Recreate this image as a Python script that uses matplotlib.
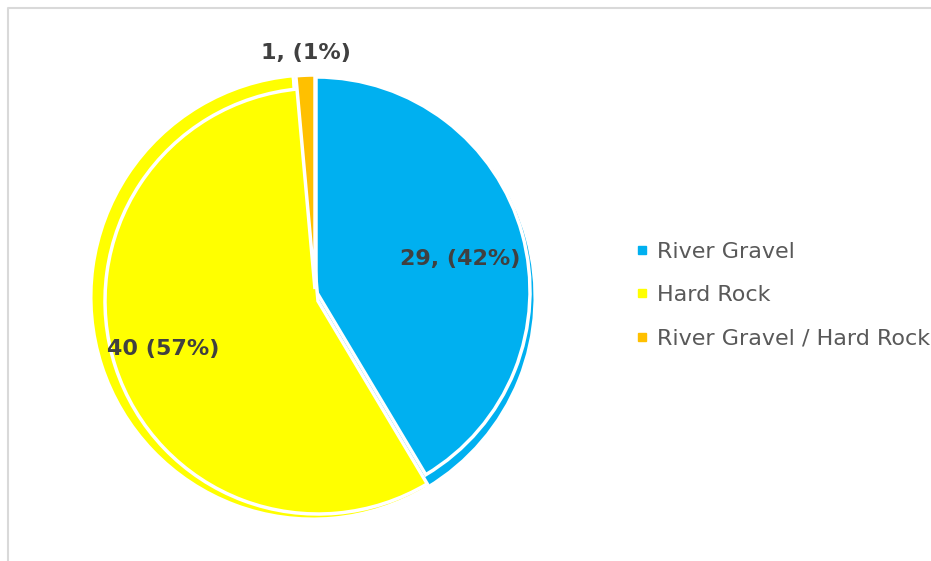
import matplotlib.pyplot as plt
from matplotlib.lines import Line2D

# material counts
categories = ['River Gravel', 'Hard Rock', 'River Gravel / Hard Rock']
counts = [29, 40, 1]
labels = ['29, (42%)', '40 (57%)', '1, (1%)']
colors = ['#00B0F0', '#FFFF00', '#FFC000']

W, H = 931, 561

fig = plt.figure(figsize=(W / 100, H / 100), dpi=100)
ax = fig.add_axes([0, 0, 1, 1])

# back pie (outer ring)
back, _ = ax.pie(counts, radius=222, center=(313, H - 297), startangle=90,
                 counterclock=False, colors=colors,
                 wedgeprops=dict(edgecolor='white', linewidth=2.2))

# front pie, each wedge nudged a little
front, _ = ax.pie(counts, radius=213, center=(313, H - 297), startangle=90,
                  counterclock=False, colors=colors,
                  wedgeprops=dict(edgecolor='white', linewidth=2.5))
front_centers = [(316, H - 291), (318, H - 301), (315, H - 289)]
front_radii = [214, 213, 214]
for w, c, r in zip(front, front_centers, front_radii):
    w.set_center(c)
    w.set_radius(r)

# data labels
label_pos = [(460, H - 259), (163, H - 349), (306, H - 53)]
for txt, (x, y) in zip(labels, label_pos):
    ax.text(x, y, txt, ha='center', va='center', fontsize=16,
            fontweight='bold', color='#404040')

ax.set_xlim(0, W)
ax.set_ylim(0, H)
ax.set_aspect('equal')
ax.axis('off')

# chart area border (top and left only, rest is outside the crop)
ax.plot([8, 8, W + 5], [-5, H - 8, H - 8], color='#D9D9D9', lw=1.5,
        clip_on=False)

handles = [Line2D([], [], marker='s', linestyle='', color=c, markersize=6)
           for c in colors]
ax.legend(handles, categories, loc='center left',
          bbox_to_anchor=(626 / W, 1 - 295 / H), frameon=False,
          fontsize=16, labelcolor='#595959', handlelength=0.6,
          handletextpad=0.4, labelspacing=1.05, borderaxespad=0)

fig.savefig('out.png', dpi=100)
